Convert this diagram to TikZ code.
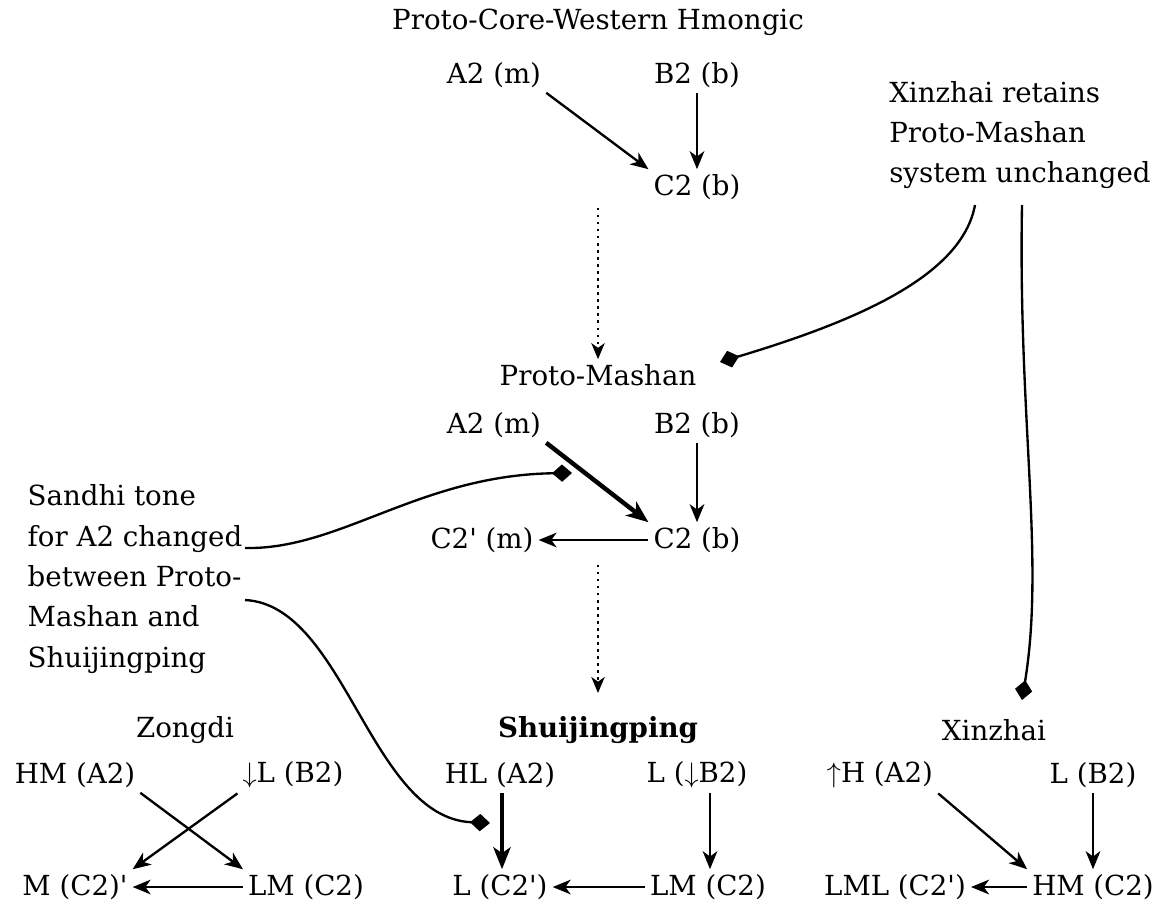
\documentclass[tikz,border=0pt]{standalone}
\usepackage{fontspec}
\setmainfont{DejaVu Serif}
\usepackage{tikz}
\usetikzlibrary{positioning, arrows.meta, calc}

\begin{document}
\begin{tikzpicture}[
        x=0.015cm, y=-0.015cm,
        every node/.style={font=\fontsize{11.8}{17}\selectfont, inner sep=2pt},
        tone/.style={anchor=center},
        title/.style={anchor=center},
        note/.style={align=left, font=\fontsize{11.8}{17.2}\selectfont},
        arrow/.style={-{Stealth[length=0.27cm, width=0.22cm, inset=0.08cm]}, line width=1pt},
        strong_arrow/.style={-{Stealth[length=0.33cm, width=0.26cm, inset=0.09cm]}, line width=1.9pt},
        stage_arrow/.style={-{Stealth[length=0.24cm, width=0.2cm, inset=0.07cm]}, dotted, line width=1pt},
        marker/.style={-{Diamond[length=0.3cm, width=0.26cm]}, line width=1pt}
    ]
    \useasboundingbox (0,0) rectangle (1161,909);

    % Proto-Core-Western Hmongic
    \node[title] (pcwh) at (598,22) {Proto-Core-Western Hmongic};
    \node[tone] (pcwhA) at (494,75) {A2 (m)};
    \node[tone] (pcwhB) at (697,75) {B2 (b)};
    \node[tone] (pcwhC) at (697,187) {C2 (b)};

    \draw[arrow] (pcwhA.south east) -- (pcwhC.north west);
    \draw[arrow] (pcwhB) -- (pcwhC);

    % Proto-Mashan
    \node[title] (pm) at (598,375) {Proto-Mashan};
    \node[tone] (pmA) at (494,425) {A2 (m)};
    \node[tone] (pmB) at (697,425) {B2 (b)};
    \node[tone] (pmC) at (697,540) {C2 (b)};
    \node[tone] (pmCp) at (482,540) {C2\textquotesingle{} (m)};

    \draw[strong_arrow] (pmA.south east) -- (pmC.north west);
    \draw[arrow] (pmB) -- (pmC);
    \draw[arrow] (pmC) -- (pmCp);

    \coordinate (stage1) at (598,208);
    \coordinate (stage2) at (598,565);
    \draw[stage_arrow] (stage1) -- (pm);
    \draw[stage_arrow] (stage2) -- ($(pm)+(0,318)$) coordinate (sjTop);

    % Zongdi
    \node[title] (zd) at (185,730) {Zongdi};
    \node[tone] (zdA) at (75,775) {HM (A2)};
    \node[tone] (zdB) at (293,775) {$\downarrow$L (B2)};
    \node[tone] (zdCp) at (75,887) {M (C2)\textquotesingle};
    \node[tone] (zdC) at (306,887) {LM (C2)};

    \draw[arrow] (zdA.south east) -- (zdC.north west);
    \draw[arrow] (zdB.south west) -- (zdCp.north east);
    \draw[arrow] (zdC) -- (zdCp);

    % Shuijingping
    \node[title, font=\fontsize{11.8}{17}\selectfont\bfseries] (sj) at (598,730) {Shuijingping};
    \node[tone] (sjA) at (500,775) {HL (A2)};
    \node[tone] (sjB) at (697,775) {L ($\downarrow$B2)};
    \node[tone] (sjCp) at (500,887) {L (C2\textquotesingle)};
    \node[tone] (sjC) at (708,887) {LM (C2)};

    \draw[strong_arrow] (sjA.south) ++(2,0) -- ($(sjCp.north)+(2,0)$);
    \draw[arrow] ($(sjB.south)+(13,0)$) -- ($(sjC.north)+(2,0)$);
    \draw[arrow] (sjC) -- (sjCp);

    % Xinzhai
    \node[title] (xz) at (994,730) {Xinzhai};
    \node[tone] (xzA) at (880,775) {$\uparrow$H (A2)};
    \node[tone] (xzB) at (1093,775) {L (B2)};
    \node[tone] (xzCp) at (895,887) {LML (C2\textquotesingle)};
    \node[tone] (xzC) at (1093,887) {HM (C2)};

    \draw[arrow] (xzA.south east) -- (xzC.north west);
    \draw[arrow] (xzB) -- (xzC);
    \draw[arrow] (xzC) -- (xzCp);

    % notes
    \node[note] (xznote) at (1020,135) {Xinzhai retains\\Proto-Mashan\\system unchanged};
    \node[note] (sandhi) at (135,579) {Sandhi tone\\for A2 changed\\between Proto-\\Mashan and\\Shuijingping};

    \coordinate (pmMark) at (720,362);
    \coordinate (xzMark) at (1022,700);
    \coordinate (pmAMark) at (572,473);
    \coordinate (sjMark) at (490,823);

    \draw[marker] (975,205) .. controls (962,275) and (860,320) .. (pmMark);
    \draw[marker] (1022,205) .. controls (1018,420) and (1045,560) .. (xzMark);
    \draw[marker] (245,548) .. controls (340,550) and (420,475) .. (pmAMark);
    \draw[marker] (245,600) .. controls (345,605) and (370,818) .. (sjMark);

\end{tikzpicture}
\end{document}
